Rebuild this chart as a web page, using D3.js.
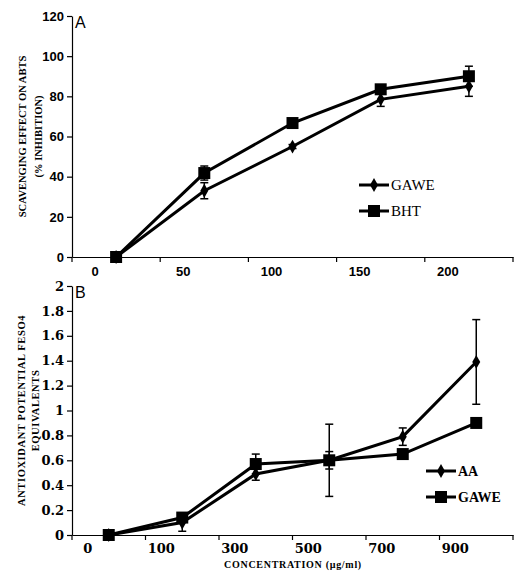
<!DOCTYPE html>
<html>
<head>
<meta charset="utf-8">
<script src="https://cdn.jsdelivr.net/npm/d3@7"></script>
<style>
  body { margin: 0; background: #fff; }
  svg { display: block; }
  .domain { stroke: #000; stroke-width: 1.2px; }
  .tick line { stroke: #000; stroke-width: 1.2px; }
</style>
</head>
<body>
<div id="vis"></div>
<script>
// panel A data (ABTS scavenging, % inhibition)
const topCats = ["0", "50", "100", "150", "200"];
const gaweAbts = [0, 33, 55, 78.5, 85];
const gaweAbtsErr = [0, 4, 1, 3.5, 5];
const bhtAbts = [0, 41.8, 66.7, 83.5, 90];
const bhtAbtsErr = [0, 3.5, 1, 1.5, 5];
const topTicks = [0, 20, 40, 60, 80, 100, 120];

// panel B data (FeSO4 equivalents)
const botCats = ["0", "100", "300", "500", "700", "900"];
const aaFrap = [0, 0.10, 0.49, 0.60, 0.79, 1.39];
const aaFrapErr = [0, 0.07, 0.05, 0.29, 0.07, 0.34];
const gaweFrap = [0, 0.14, 0.57, 0.60, 0.65, 0.90];
const gaweFrapErr = [0, 0.02, 0.08, 0.07, 0.02, 0.01];
const botTicks = [0, 0.2, 0.4, 0.6, 0.8, 1, 1.2, 1.4, 1.6, 1.8, 2];

const WIDTH = 519, HEIGHT = 573;
const SERIF = "'Liberation Serif', 'Times New Roman', serif";
const SERIF_WIDE = "'DejaVu Serif', serif";
const SANS = "'Liberation Sans', Arial, sans-serif";

const svg = d3.select("#vis").append("svg")
    .attr("width", WIDTH)
    .attr("height", HEIGHT);

const diamond = d3.symbol().type(d3.symbolDiamond).size(55);

function drawPanel(opt) {
    const X = d3.scaleBand().domain(opt.cats).range([72, 513]);
    const Y = d3.scaleLinear().domain(opt.yDomain).range([opt.yBottom, opt.yTop]);
    const g = svg.append("g");

    // y axis
    const yAxis = g.append("g")
        .attr("transform", "translate(72,0)")
        .call(d3.axisLeft(Y).tickValues(opt.yTicks).tickSize(5).tickSizeOuter(0)
            .tickPadding(opt.yPad).tickFormat(d => String(+d.toFixed(1))));
    yAxis.selectAll("text")
        .attr("font-family", opt.tickFont)
        .attr("font-weight", "bold")
        .attr("font-size", opt.tickSize + "px")
        .attr("fill", "#000");

    // x axis: labels sit left of the band centres, ticks at band edges
    const xAxis = g.append("g")
        .attr("transform", "translate(0," + opt.yBottom + ")")
        .call(d3.axisBottom(X).tickSize(0).tickSizeOuter(0).tickPadding(opt.xPad));
    xAxis.selectAll("text")
        .attr("dx", -21)
        .attr("font-family", opt.tickFont)
        .attr("font-weight", "bold")
        .attr("font-size", opt.tickSize + "px")
        .attr("fill", "#000");
    g.selectAll(".edge")
        .data(d3.range(opt.cats.length + 1))
        .enter()
        .append("line")
            .attr("x1", i => 72 + i * X.step())
            .attr("x2", i => 72 + i * X.step())
            .attr("y1", opt.yBottom)
            .attr("y2", opt.yBottom + 5)
            .attr("stroke", "#000")
            .attr("stroke-width", 1.2);

    // panel letter
    g.append("text")
        .attr("x", 75)
        .attr("y", opt.yTop + 12)
        .attr("font-family", SANS)
        .attr("font-size", "16px")
        .text(opt.letter);

    // y title (two lines)
    const cy = (opt.yTop + opt.yBottom) / 2;
    opt.yTitle.forEach((t, i) => {
        g.append("text")
            .attr("transform", "translate(" + opt.titleX[i] + "," + cy + ") rotate(-90)")
            .attr("text-anchor", "middle")
            .attr("font-family", SERIF)
            .attr("font-weight", "bold")
            .attr("font-size", "10.5px")
            .attr("letter-spacing", opt.titleSpacing)
            .text(t);
    });

    const cx = (d, i) => X(opt.cats[i]) + X.bandwidth() / 2;

    opt.series.forEach(s => {
        const pts = s.values.map((v, i) => ({ x: cx(v, i), v: v, e: s.err[i] }));

        // error bars
        const eb = g.append("g");
        pts.filter(p => p.e > 0).forEach(p => {
            const y1 = Y(p.v - p.e), y2 = Y(p.v + p.e);
            eb.append("line").attr("x1", p.x).attr("x2", p.x).attr("y1", y1).attr("y2", y2)
                .attr("stroke", "#000").attr("stroke-width", 1.5);
            [y1, y2].forEach(yy => {
                eb.append("line").attr("x1", p.x - 4).attr("x2", p.x + 4).attr("y1", yy).attr("y2", yy)
                    .attr("stroke", "#000").attr("stroke-width", 1.5);
            });
        });

        g.append("path")
            .datum(pts)
            .attr("fill", "none")
            .attr("stroke", "#000")
            .attr("stroke-width", 3)
            .attr("d", d3.line().x(p => p.x).y(p => Y(p.v)));

        drawMarkers(g, s.shape, pts.map(p => [p.x, Y(p.v)]));
    });

    // legend
    opt.series.forEach((s, i) => {
        const ly = opt.legY + i * 26;
        g.append("line")
            .attr("x1", opt.legX).attr("x2", opt.legX + 30)
            .attr("y1", ly).attr("y2", ly)
            .attr("stroke", "#000").attr("stroke-width", 3);
        drawMarkers(g, s.shape, [[opt.legX + 15, ly]]);
        g.append("text")
            .attr("x", opt.legX + 32)
            .attr("y", ly + 5)
            .attr("font-family", SERIF)
            .attr("font-weight", opt.legWeight)
            .attr("font-size", opt.legSize + "px")
            .text(s.name);
    });
}

function drawMarkers(g, shape, pts) {
    if (shape === "square") {
        g.selectAll(null).data(pts).enter().append("rect")
            .attr("x", p => p[0] - 6).attr("y", p => p[1] - 6)
            .attr("width", 12).attr("height", 12)
            .attr("fill", "#000");
    } else {
        g.selectAll(null).data(pts).enter().append("path")
            .attr("transform", p => "translate(" + p[0] + "," + p[1] + ")")
            .attr("d", diamond)
            .attr("fill", "#000");
    }
}

drawPanel({
    letter: "A",
    cats: topCats,
    yDomain: [0, 120], yTicks: topTicks,
    yTop: 16, yBottom: 257,
    tickFont: SANS, tickSize: 13, yPad: 3, xPad: 10,
    yTitle: ["SCAVENGING EFFECT ON ABTS", "(% INHIBITION)"],
    titleX: [26, 42],
    titleSpacing: "0px",
    series: [
        { name: "GAWE", shape: "diamond", values: gaweAbts, err: gaweAbtsErr },
        { name: "BHT", shape: "square", values: bhtAbts, err: bhtAbtsErr }
    ],
    legX: 359, legY: 185, legSize: 15, legWeight: "normal"
});

drawPanel({
    letter: "B",
    cats: botCats,
    yDomain: [0, 2], yTicks: botTicks,
    yTop: 286, yBottom: 535,
    tickFont: SERIF_WIDE, tickSize: 13, yPad: 3, xPad: 9,
    yTitle: ["ANTIOXIDANT  POTENTIAL  FESO4", "EQUIVALENTS"],
    titleX: [25, 39],
    titleSpacing: "0.6px",
    series: [
        { name: "AA", shape: "diamond", values: aaFrap, err: aaFrapErr },
        { name: "GAWE", shape: "square", values: gaweFrap, err: gaweFrapErr }
    ],
    legX: 426, legY: 471, legSize: 14, legWeight: "bold"
});

// shared x title
svg.append("text")
    .attr("x", 293)
    .attr("y", 568)
    .attr("text-anchor", "middle")
    .attr("font-family", SERIF)
    .attr("font-weight", "bold")
    .attr("font-size", "10px")
    .attr("letter-spacing", "0.7px")
    .text("CONCENTRATION (µg/ml)");
</script>
</body>
</html>
